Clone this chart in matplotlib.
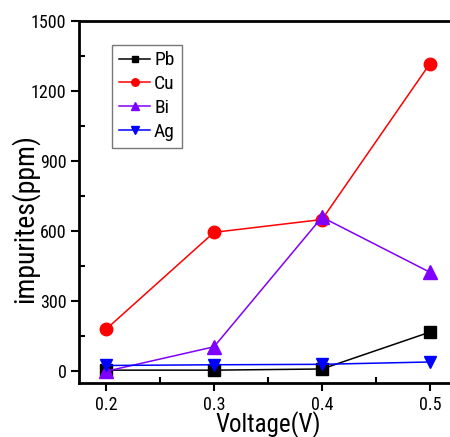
import matplotlib
matplotlib.use("Agg")
import matplotlib.pyplot as plt
from matplotlib.ticker import MultipleLocator

plt.rcParams['font.family'] = ['Roboto Condensed', 'Liberation Sans', 'DejaVu Sans']

voltage = [0.2, 0.3, 0.4, 0.5]
pb = [5, 5, 10, 168]
cu = [180, 595, 650, 1318]
bi = [0, 105, 660, 424]
ag = [25, 28, 30, 40]

series = [
    ("Pb", pb, "black", "s", 8),
    ("Cu", cu, "red", "o", 9),
    ("Bi", bi, "#8000ff", "^", 10),
    ("Ag", ag, "blue", "v", 9),
]

fig = plt.figure(figsize=(4.5, 4.37), dpi=100)
ax = fig.add_axes([79/450, (437-383)/437, (457-79)/450, (383-21)/437])

for name, vals, col, mk, ms in series:
    ax.plot(voltage, vals, color=col, marker=mk, markersize=ms, linewidth=1.1, label=name)

ax.set_xlim(0.175, 0.525)
ax.set_ylim(-50, 1500)
ax.xaxis.set_minor_locator(MultipleLocator(0.05))
ax.yaxis.set_major_locator(MultipleLocator(300))
ax.yaxis.set_minor_locator(MultipleLocator(150))
ax.set_xticks(voltage)
ax.set_xticklabels(["0.2", "0.3", "0.4", "0.5"])
ax.tick_params(which='major', direction='out', length=6, width=1.5, labelsize=13, pad=3)
ax.tick_params(which='minor', direction='in', length=4, width=1.5)
for s in ax.spines.values():
    s.set_linewidth(2)

ax.set_xlabel("Voltage(V)", fontsize=18)
ax.xaxis.set_label_coords(0.5, -0.077)
ax.set_ylabel("impurites(ppm)", fontsize=20)
ax.yaxis.set_label_coords(-0.105, 0.455)

leg = ax.legend(loc='upper left', bbox_to_anchor=(0.088, 0.935), fontsize=14,
                frameon=True, fancybox=False, edgecolor='#555555', handlelength=1.6,
                handletextpad=0.2, borderpad=0.35, labelspacing=0.3, markerscale=0.6,
                borderaxespad=0)
leg.get_frame().set_linewidth(1)

fig.savefig("out.png", dpi=100)
